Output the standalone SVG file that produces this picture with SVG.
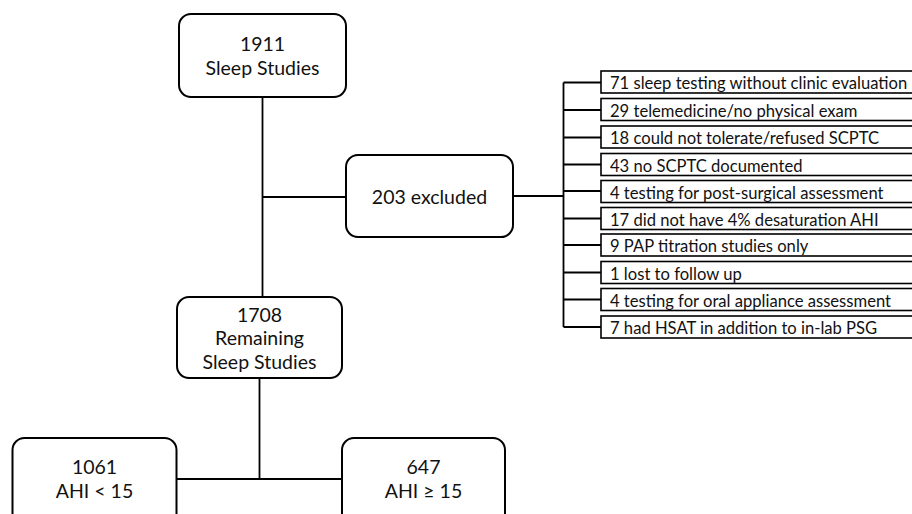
<svg xmlns="http://www.w3.org/2000/svg" width="912" height="514" viewBox="0 0 912 514">
<style>
.box{fill:#fff;stroke:#000;stroke-width:2}
.lbox{fill:#fff;stroke:#000;stroke-width:1.6}
.ln{fill:none;stroke:#000;stroke-width:1.8}
.t{font-family:Lato,"Liberation Sans",sans-serif;font-size:19.5px;fill:#111;text-anchor:middle}
.lt{font-family:Lato,"Liberation Sans",sans-serif;font-size:16.6px;fill:#111}
</style>
<rect width="912" height="514" fill="#fff"/>
<g id="connectors">
<path class="ln" d="M262.5 97 V197 M262.5 197 H346 M262.5 197 V297"/>
<path class="ln" d="M513 196 H563.5"/>
<path class="ln" d="M563.5 82.5 V327 M563.5 82.5 H601 M563.5 110 H601 M563.5 137.5 H601 M563.5 164.5 H601 M563.5 191 H601 M563.5 218.5 H601 M563.5 245 H601 M563.5 272.5 H601 M563.5 299.5 H601 M563.5 327 H601"/>
<path class="ln" d="M259.5 378 V479 M176.5 479 H342"/>
</g>
<g id="n1911">
<rect class="box" x="179" y="14" width="167" height="83" rx="12"/>
<text class="t" x="262.5" y="51">1911</text>
<text class="t" x="262.5" y="75">Sleep Studies</text>
</g>
<g id="n203">
<rect class="box" x="346" y="155" width="167" height="82" rx="12"/>
<text class="t" x="429.5" y="204">203 excluded</text>
</g>
<g id="reasons">
<g id="r1"><rect class="lbox" x="601" y="71" width="320" height="22"/><text class="lt" x="610" y="89">71 sleep testing without clinic evaluation</text></g>
<g id="r2"><rect class="lbox" x="601" y="98.5" width="320" height="22"/><text class="lt" x="610" y="116.5">29 telemedicine/no physical exam</text></g>
<g id="r3"><rect class="lbox" x="601" y="126" width="320" height="22"/><text class="lt" x="610" y="144">18 could not tolerate/refused SCPTC</text></g>
<g id="r4"><rect class="lbox" x="601" y="153.5" width="320" height="22"/><text class="lt" x="610" y="171.5">43 no SCPTC documented</text></g>
<g id="r5"><rect class="lbox" x="601" y="180.5" width="320" height="22"/><text class="lt" x="610" y="198.5">4 testing for post-surgical assessment</text></g>
<g id="r6"><rect class="lbox" x="601" y="207.5" width="320" height="22"/><text class="lt" x="610" y="225.5">17 did not have 4% desaturation AHI</text></g>
<g id="r7"><rect class="lbox" x="601" y="234" width="320" height="22"/><text class="lt" x="610" y="252">9 PAP titration studies only</text></g>
<g id="r8"><rect class="lbox" x="601" y="261.5" width="320" height="22"/><text class="lt" x="610" y="279.5">1 lost to follow up</text></g>
<g id="r9"><rect class="lbox" x="601" y="288.5" width="320" height="22"/><text class="lt" x="610" y="306.5">4 testing for oral appliance assessment</text></g>
<g id="r10"><rect class="lbox" x="601" y="316" width="320" height="22"/><text class="lt" x="610" y="334">7 had HSAT in addition to in-lab PSG</text></g>
</g>
<g id="n1708">
<rect class="box" x="177" y="297" width="165" height="81" rx="12"/>
<text class="t" x="259.5" y="321.5">1708</text>
<text class="t" x="259.5" y="345">Remaining</text>
<text class="t" x="259.5" y="369">Sleep Studies</text>
</g>
<g id="n1061">
<rect class="box" x="12.5" y="438" width="164" height="100" rx="12"/>
<text class="t" x="94.5" y="474">1061</text>
<text class="t" x="94.5" y="498">AHI &lt; 15</text>
</g>
<g id="n647">
<rect class="box" x="342" y="438" width="163" height="100" rx="12"/>
<text class="t" x="423.5" y="474">647</text>
<text class="t" x="423.5" y="498">AHI ≥ 15</text>
</g>
</svg>
